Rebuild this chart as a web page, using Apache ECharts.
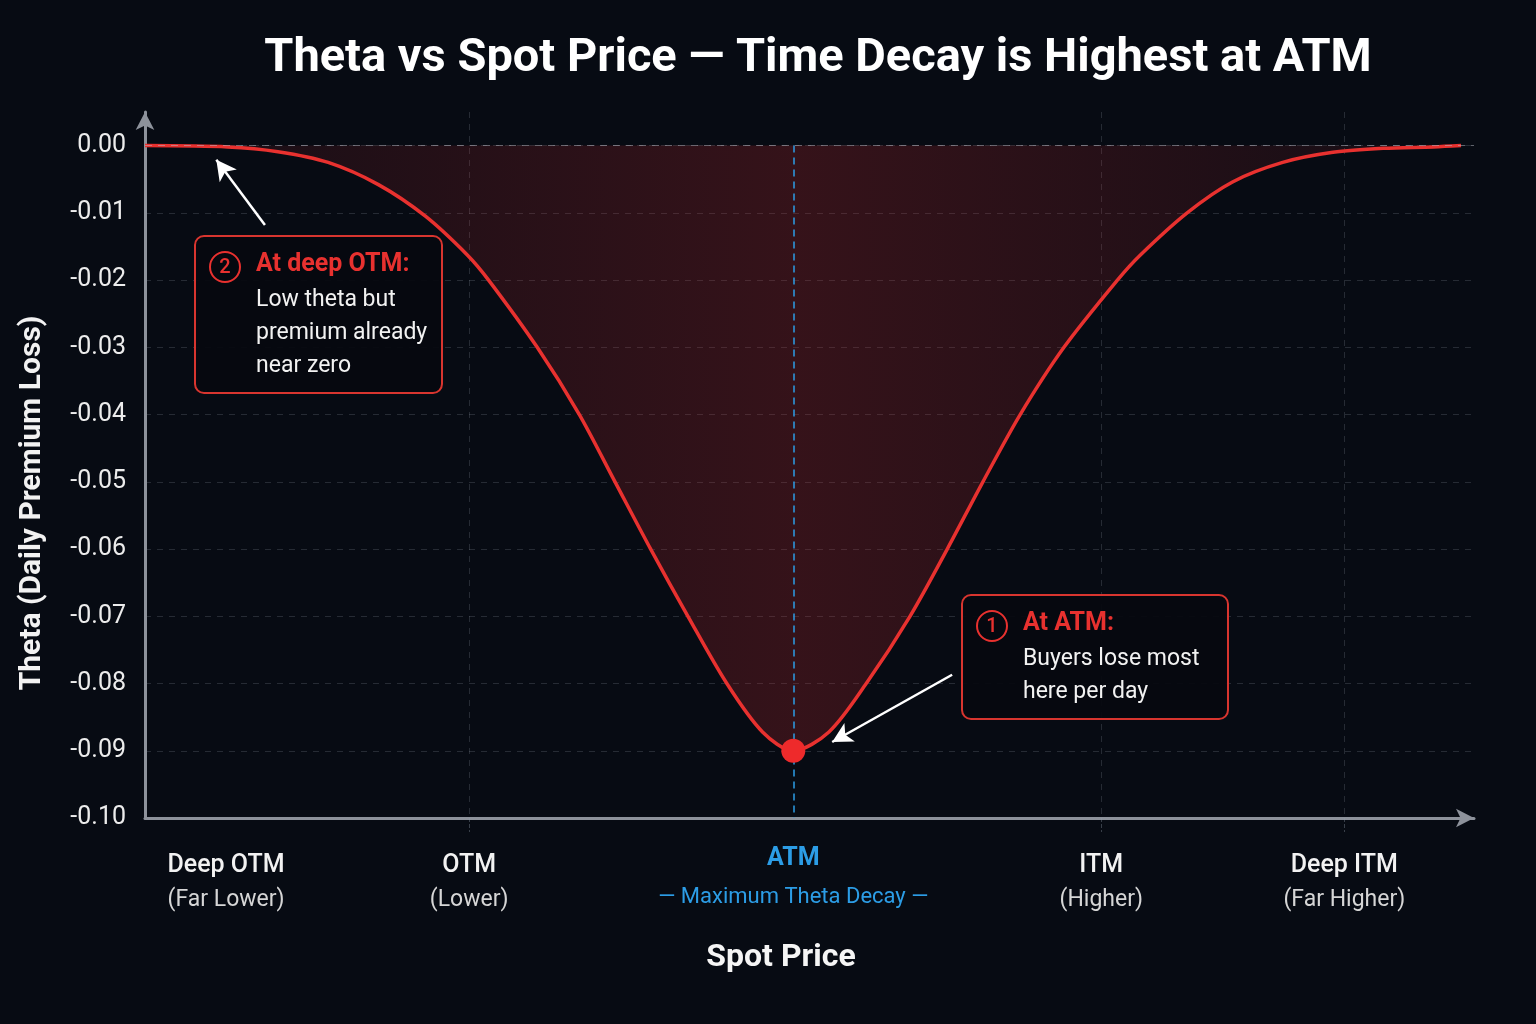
<!DOCTYPE html>
<html>
<head>
<meta charset="UTF-8">
<title>Theta vs Spot Price</title>
<script src="https://cdn.jsdelivr.net/npm/echarts@6/dist/echarts.min.js"></script>
<style>
  body { margin: 0; padding: 0; background: #070b13; }
  #container { width: 1536px; height: 1024px; }
</style>
</head>
<body>
<div id="container"></div>
<script>
// spot price (ATM = 100) and theta per day
var spot = [60, 65.1, 68.2, 71.3, 74.4, 77.3, 79.9, 81.2, 84.2, 86.8,
            89.0, 91.2, 93.5, 95.9, 98.1, 100,
            102.2, 104.5, 107.2, 109.5, 111.7, 114.0, 116.7, 120.0, 121.4, 124.3,
            127.1, 130.2, 133.3, 136.4, 139.5, 141.2];
var theta = [0, -0.0002, -0.0009, -0.0025, -0.0058, -0.0105, -0.0163, -0.0200, -0.0300, -0.0400,
             -0.0500, -0.0600, -0.0700, -0.0800, -0.0872, -0.0900,
             -0.0872, -0.0800, -0.0700, -0.0600, -0.0500, -0.0400, -0.0300, -0.0200, -0.0163, -0.0100,
             -0.0054, -0.0025, -0.0010, -0.0004, -0.0002, 0];

// x axis categories
var tickSpot = [65, 80, 100, 119, 134];
var tickName = ['Deep OTM', 'OTM', 'ATM', 'ITM', 'Deep ITM'];
var tickSub = ['(Far Lower)', '(Lower)', '\u2014 Maximum Theta Decay \u2014', '(Higher)', '(Far Higher)'];
var gridSpot = [80, 119, 134];

// annotated points
var atmPoint = [100, -0.09];
var arrowOtm = [[67.4, -0.0118], [64.4, -0.0021]];
var arrowAtm = [[109.8, -0.0787], [102.4, -0.0887]];

var FONT = 'Roboto, "Liberation Sans", sans-serif';
var RED = '#e8312f';
var BLUE = '#2c9de6';

var chart = echarts.init(document.getElementById('container'), null, { renderer: 'canvas' });

var lineData = spot.map(function (s, i) { return [s, theta[i]]; });

function txt(x, y, text, font, fill, align) {
    return {
        type: 'text', x: x, y: y, z: 100,
        style: {
            text: text, font: font, fill: fill,
            align: align || 'left', textAlign: align || 'left',
            verticalAlign: 'middle', textVerticalAlign: 'middle'
        }
    };
}

function box(x, y, w, h, num, head, lines) {
    var els = [
        { type: 'rect', z: 99, shape: { x: x, y: y, width: w, height: h, r: 9 },
          style: { fill: 'rgba(6,9,15,0.94)', stroke: '#d8352f', lineWidth: 2 } },
        { type: 'circle', z: 100, shape: { cx: x + 30, cy: y + 31, r: 15 },
          style: { fill: 'none', stroke: RED, lineWidth: 2 } },
        txt(x + 30, y + 32, num, '500 20px ' + FONT, RED, 'center'),
        txt(x + 61, y + 29, head, 'bold 25px ' + FONT, RED)
    ];
    lines.forEach(function (l, i) {
        els.push(txt(x + 61, y + 64 + i * 33, l, '23px ' + FONT, '#f2f2f2'));
    });
    return els;
}

var option = {
    backgroundColor: '#070b13',
    animation: false,
    grid: { left: 145, top: 112, width: 1329, height: 706 },
    xAxis: {
        type: 'value',
        min: 60,
        max: 142,
        axisLine: {
            onZero: false,
            lineStyle: { color: '#8d929b', width: 3 },
            symbol: ['none', 'arrow'],
            symbolSize: [14, 18]
        },
        axisTick: {
            show: true,
            customValues: gridSpot,
            length: 14,
            lineStyle: { color: 'rgba(150,160,175,0.35)', width: 1, type: 'dashed' }
        },
        splitLine: {
            show: true,
            lineStyle: { color: 'rgba(150,160,175,0.22)', width: 1, type: [6, 6] }
        },
        axisLabel: {
            customValues: tickSpot,
            margin: 31,
            formatter: function (v) {
                var i = tickSpot.indexOf(v);
                if (i < 0) return '';
                if (i === 2) return '{atm|' + tickName[i] + '}\n{atmSub|' + tickSub[i] + '}';
                return '{nm|' + tickName[i] + '}\n{sub|' + tickSub[i] + '}';
            },
            rich: {
                nm: { color: '#f2f2f2', fontSize: 25, fontWeight: 500, lineHeight: 34, fontFamily: FONT },
                sub: { color: '#d6d6d6', fontSize: 23, lineHeight: 34, fontFamily: FONT },
                atm: { color: BLUE, fontSize: 25, fontWeight: 'bold', lineHeight: 19, fontFamily: FONT },
                atmSub: { color: BLUE, fontSize: 22, lineHeight: 59, fontFamily: FONT }
            }
        }
    },
    yAxis: {
        type: 'value',
        min: -0.1,
        max: 0.005,
        interval: 0.01,
        axisLine: {
            show: true,
            onZero: false,
            lineStyle: { color: '#8d929b', width: 3 },
            symbol: ['none', 'arrow'],
            symbolSize: [14, 18]
        },
        axisTick: { show: false },
        splitLine: {
            show: true,
            showMaxLine: false,
            lineStyle: { color: 'rgba(150,160,175,0.22)', width: 1, type: [6, 6] }
        },
        axisLabel: {
            showMaxLabel: false,
            margin: 19,
            color: '#ececec',
            fontSize: 25,
            fontFamily: FONT,
            formatter: function (v) { return v.toFixed(2); }
        }
    },
    series: [
        {
            name: 'Theta',
            type: 'line',
            data: lineData,
            smooth: 0.3,
            showSymbol: false,
            z: 3,
            lineStyle: { color: RED, width: 3.5 },
            areaStyle: {
                color: new echarts.graphic.LinearGradient(0, 0, 1, 0, [
                    { offset: 0, color: 'rgba(190,40,45,0.12)' },
                    { offset: 0.5, color: 'rgba(190,40,45,0.36)' },
                    { offset: 1, color: 'rgba(190,40,45,0.10)' }
                ])
            },
            markLine: {
                silent: true,
                symbol: 'none',
                label: { show: false },
                data: [
                    [{ coord: [atmPoint[0], 0], lineStyle: { color: BLUE, width: 1.5, type: [7, 5] } },
                     { coord: [atmPoint[0], -0.1] }],
                    [{ coord: [60, 0], lineStyle: { color: 'rgba(185,190,200,0.5)', width: 1.2, type: [7, 6] } },
                     { coord: [142, 0] }]
                ]
            }
        },
        {
            name: 'ATM',
            type: 'scatter',
            data: [atmPoint],
            symbolSize: 24,
            z: 5,
            itemStyle: { color: '#ee2a2b', opacity: 1 },
            markLine: {
                silent: true,
                symbol: ['none', 'arrow'],
                symbolSize: [16, 20],
                label: { show: false },
                lineStyle: { color: '#ffffff', width: 2.5, type: 'solid' },
                data: [
                    [{ coord: arrowOtm[0] }, { coord: arrowOtm[1] }],
                    [{ coord: arrowAtm[0] }, { coord: arrowAtm[1] }]
                ]
            }
        }
    ],
    graphic: [
        txt(818, 59, 'Theta vs Spot Price \u2014 Time Decay is Highest at ATM', 'bold 47px ' + FONT, '#ffffff', 'center'),
        {
            type: 'text', x: 32, y: 503, rotation: Math.PI / 2, z: 100,
            style: {
                text: 'Theta (Daily Premium Loss)', font: 'bold 30px ' + FONT, fill: '#f2f2f2',
                align: 'center', textAlign: 'center', verticalAlign: 'middle', textVerticalAlign: 'middle'
            }
        },
        txt(781, 958, 'Spot Price', 'bold 32px ' + FONT, '#f5f5f5', 'center')
    ]
        .concat(box(195, 236, 247, 157, '2', 'At deep OTM:', ['Low theta but', 'premium already', 'near zero']))
        .concat(box(962, 595, 266, 124, '1', 'At ATM:', ['Buyers lose most', 'here per day']))
};

chart.setOption(option);
</script>
</body>
</html>
